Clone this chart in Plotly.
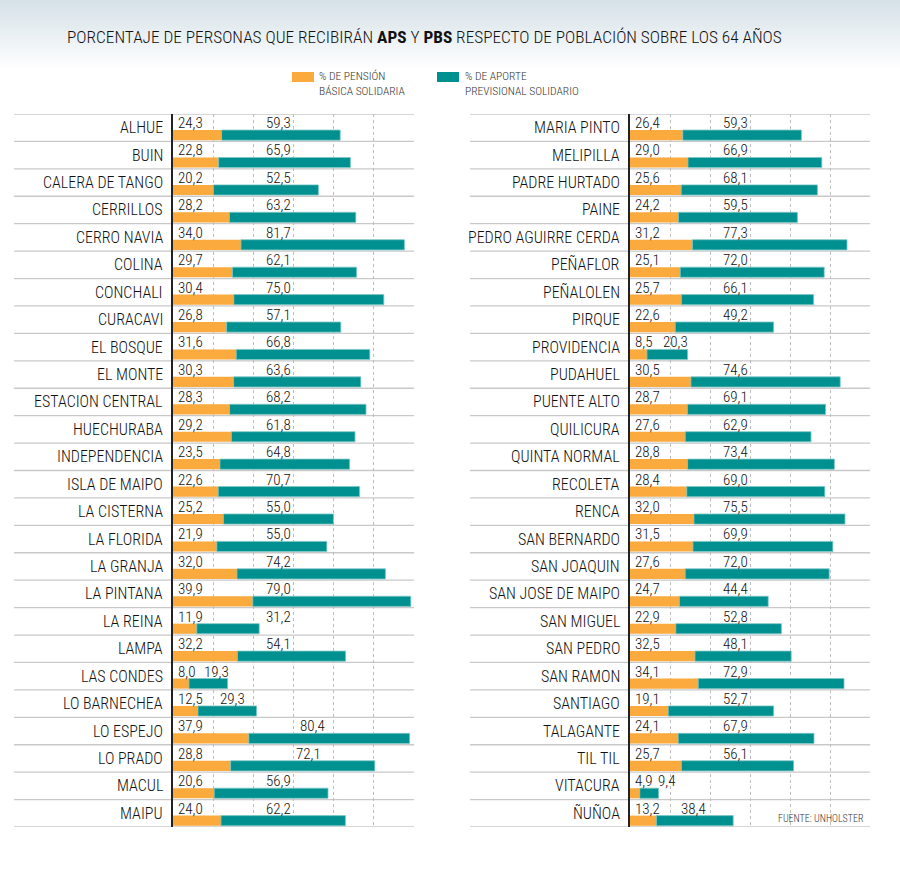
import plotly.graph_objects as go

# ---------------- DATA ----------------
left_names = ["ALHUE", "BUIN", "CALERA DE TANGO", "CERRILLOS", "CERRO NAVIA", "COLINA",
              "CONCHALI", "CURACAVI", "EL BOSQUE", "EL MONTE", "ESTACION CENTRAL",
              "HUECHURABA", "INDEPENDENCIA", "ISLA DE MAIPO", "LA CISTERNA", "LA FLORIDA",
              "LA GRANJA", "LA PINTANA", "LA REINA", "LAMPA", "LAS CONDES", "LO BARNECHEA",
              "LO ESPEJO", "LO PRADO", "MACUL", "MAIPU"]
left_pbs = [24.3, 22.8, 20.2, 28.2, 34.0, 29.7, 30.4, 26.8, 31.6, 30.3, 28.3, 29.2, 23.5,
            22.6, 25.2, 21.9, 32.0, 39.9, 11.9, 32.2, 8.0, 12.5, 37.9, 28.8, 20.6, 24.0]
left_aps = [59.3, 65.9, 52.5, 63.2, 81.7, 62.1, 75.0, 57.1, 66.8, 63.6, 68.2, 61.8, 64.8,
            70.7, 55.0, 55.0, 74.2, 79.0, 31.2, 54.1, 19.3, 29.3, 80.4, 72.1, 56.9, 62.2]

right_names = ["MARIA PINTO", "MELIPILLA", "PADRE HURTADO", "PAINE", "PEDRO AGUIRRE CERDA",
               "PEÑAFLOR", "PEÑALOLEN", "PIRQUE", "PROVIDENCIA", "PUDAHUEL", "PUENTE ALTO",
               "QUILICURA", "QUINTA NORMAL", "RECOLETA", "RENCA", "SAN BERNARDO",
               "SAN JOAQUIN", "SAN JOSE DE MAIPO", "SAN MIGUEL", "SAN PEDRO", "SAN RAMON",
               "SANTIAGO", "TALAGANTE", "TIL TIL", "VITACURA", "ÑUÑOA"]
right_pbs = [26.4, 29.0, 25.6, 24.2, 31.2, 25.1, 25.7, 22.6, 8.5, 30.5, 28.7, 27.6, 28.8,
             28.4, 32.0, 31.5, 27.6, 24.7, 22.9, 32.5, 34.1, 19.1, 24.1, 25.7, 4.9, 13.2]
right_aps = [59.3, 66.9, 68.1, 59.5, 77.3, 72.0, 66.1, 49.2, 20.3, 74.6, 69.1, 62.9, 73.4,
             69.0, 75.5, 69.9, 72.0, 44.4, 52.8, 48.1, 72.9, 52.7, 67.9, 56.1, 9.4, 38.4]

legend_pbs = "% DE PENSIÓN<br>BÁSICA SOLIDARIA"
legend_aps = "% DE APORTE<br>PREVISIONAL SOLIDARIO"
title_text = ("PORCENTAJE DE PERSONAS QUE RECIBIRÁN <b>APS</b> Y <b>PBS</b> "
              "RESPECTO DE POBLACIÓN SOBRE LOS 64 AÑOS")
source_text = "FUENTE: UNHOLSTER"

# ---------------- STYLE / LAYOUT ----------------
W, H = 900, 875
ORANGE = "#FBAA3E"
TEAL = "#00908F"
FONT = "Roboto Condensed, Liberation Sans Narrow, DejaVu Sans Condensed, sans-serif"
TXT = "#111111"
WEIGHT = 300
DEFAULT_LABEL_RIGHT = 60  # APS value label right edge (axis units)
LABEL_RIGHT_OVERRIDE = {"LO ESPEJO": 77, "LO PRADO": 75, "LAS CONDES": 29,
                        "LO BARNECHEA": 37, "PROVIDENCIA": 30, "VITACURA": 23.5,
                        "ÑUÑOA": 39}

def px(x):
    return x / W

def py(y):
    return 1 - y / H

TOP, BOTTOM = 114, 827
panels = [
    dict(names=left_names, pbs=left_pbs, aps=left_aps, ax0=173, line0=14, xa="x", ya="y"),
    dict(names=right_names, pbs=right_pbs, aps=right_aps, ax0=630, line0=470, xa="x2", ya="y2"),
]

fig = go.Figure()
shapes = []
annotations = []

def fmt(v):
    return f"{v:.1f}".replace(".", ",")

def fnt(size, color=TXT):
    return dict(family=FONT, size=size, color=color, weight=WEIGHT)

for p in panels:
    n = len(p["names"])
    idx = list(range(n))
    fig.add_trace(go.Bar(x=p["pbs"], y=idx, base=0, orientation="h", width=0.37, offset=0.085,
                         marker=dict(color=ORANGE, line=dict(width=0)),
                         xaxis=p["xa"], yaxis=p["ya"], hoverinfo="skip"))
    fig.add_trace(go.Bar(x=p["aps"], y=idx, base=p["pbs"], orientation="h", width=0.37,
                         offset=0.085,
                         marker=dict(color=TEAL, line=dict(width=0.8, color="#7cc6c6")),
                         xaxis=p["xa"], yaxis=p["ya"], hoverinfo="skip"))
    yref = p["ya"]
    xref = p["xa"]
    for i in range(n + 1):
        shapes.append(dict(type="line", xref="paper", yref=yref,
                           x0=px(p["line0"]), x1=px(p["line0"] + 400),
                           y0=i - 0.5, y1=i - 0.5, layer="below",
                           line=dict(color="#c9c9c9", width=1.3)))
    for i, name in enumerate(p["names"]):
        annotations.append(dict(text=name, xref="paper", yref=yref, x=px(p["ax0"] - 8), y=i,
                                xanchor="right", yanchor="middle", showarrow=False,
                                font=fnt(16)))
        annotations.append(dict(text=fmt(p["pbs"][i]), xref=xref, yref=yref, x=0, y=i - 0.17,
                                xanchor="left", yanchor="middle", xshift=3, showarrow=False,
                                font=fnt(15)))
        xr = LABEL_RIGHT_OVERRIDE.get(name, DEFAULT_LABEL_RIGHT)
        annotations.append(dict(text=fmt(p["aps"][i]), xref=xref, yref=yref, x=xr, y=i - 0.17,
                                xanchor="right", yanchor="middle", showarrow=False,
                                font=fnt(15)))

# header gradient
steps = 36
c0 = (213, 225, 231)
for k in range(steps):
    t = k / (steps - 1)
    col = tuple(int(round(c0[j] + (255 - c0[j]) * t)) for j in range(3))
    y0 = 72 * k / steps
    y1 = 72 * (k + 1) / steps
    shapes.append(dict(type="rect", xref="paper", yref="paper", x0=0, x1=1,
                       y0=py(y1), y1=py(y0) + 0.0005, layer="below",
                       fillcolor=f"rgb{col}", line=dict(width=0)))

# legend
shapes.append(dict(type="rect", xref="paper", yref="paper", x0=px(292), x1=px(314),
                   y0=py(82), y1=py(72), fillcolor=ORANGE, line=dict(width=0)))
shapes.append(dict(type="rect", xref="paper", yref="paper", x0=px(437), x1=px(459),
                   y0=py(82), y1=py(72), fillcolor=TEAL, line=dict(width=0)))
for lx, txt in ((318, legend_pbs), (464, legend_aps)):
    annotations.append(dict(text=txt, xref="paper", yref="paper", x=px(lx), y=py(68),
                            xanchor="left", yanchor="top", align="left", borderpad=0,
                            showarrow=False, font=fnt(11.5, "#333")))

annotations.append(dict(text=title_text, xref="paper", yref="paper", x=px(65), y=py(37),
                        xanchor="left", yanchor="middle", showarrow=False,
                        font=fnt(17.3)))
annotations.append(dict(text=source_text, xref="paper", yref="paper", x=px(866), y=py(818),
                        xanchor="right", yanchor="middle", showarrow=False,
                        font=fnt(10, "#333")))

xcommon = dict(range=[0, 120.5], dtick=20, tick0=0, showgrid=True, gridcolor="#bdbdbd",
               griddash="dot", gridwidth=1, showticklabels=False, zeroline=False,
               showline=False, ticks="", fixedrange=True)
ycommon = dict(range=[25.5, -0.5], showgrid=False, showticklabels=False, zeroline=False,
               showline=True, linecolor="#222", linewidth=1.5, ticks="", fixedrange=True)

fig.update_layout(
    width=W, height=H, margin=dict(l=0, r=0, t=0, b=0),
    paper_bgcolor="white", plot_bgcolor="white", showlegend=False, barmode="overlay",
    xaxis=dict(domain=[px(173), px(414)], anchor="y", **xcommon),
    xaxis2=dict(domain=[px(630), px(871)], anchor="y2", **xcommon),
    yaxis=dict(domain=[py(BOTTOM), py(TOP)], anchor="x", **ycommon),
    yaxis2=dict(domain=[py(BOTTOM), py(TOP)], anchor="x2", **ycommon),
    shapes=shapes, annotations=annotations,
)

fig.write_html("out.html", config={"displayModeBar": False},
               post_script="document.body.style.margin='0';document.body.style.overflow='hidden';")
